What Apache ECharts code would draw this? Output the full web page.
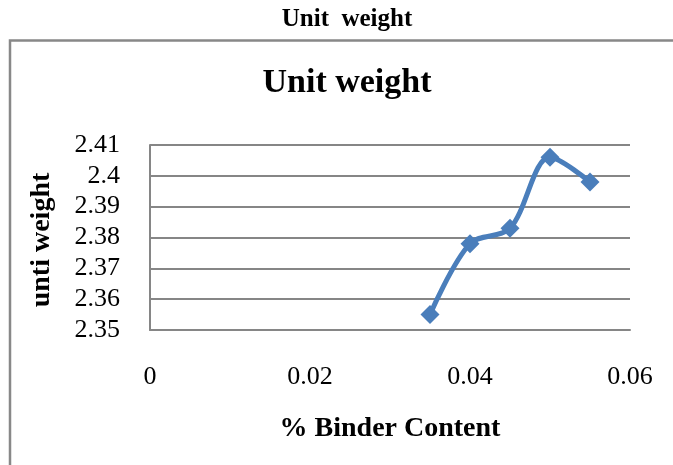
<!DOCTYPE html>
<html>
<head>
<meta charset="utf-8">
<style>
  html, body { margin: 0; padding: 0; background: #fff; }
  #chart { width: 673px; height: 465px; }
</style>
<script src="https://cdn.jsdelivr.net/npm/echarts@6/dist/echarts.min.js"></script>
</head>
<body>
<div id="chart"></div>
<script>
// Binder content (fraction) against measured unit weight
const binderContent = [0.035, 0.04, 0.045, 0.05, 0.055];
const unitWeight = [2.355, 2.378, 2.383, 2.406, 2.398];

// Axis settings
const xTicks = { min: 0, max: 0.06, interval: 0.02 };
const yTicks = { min: 2.35, max: 2.41, interval: 0.01 };

const captionText = 'Unit  weight';
const titleText = 'Unit weight';
const xName = '% Binder Content';
const yName = 'unti weight';

const serif = '"Liberation Serif", "Times New Roman", serif';
const gridColor = '#868686';
const lineColor = '#4a7ebb';

const chart = echarts.init(document.getElementById('chart'), null, { renderer: 'canvas' });

const fmt = v => String(parseFloat(v.toFixed(2)));

chart.setOption({
  animation: false,
  backgroundColor: '#ffffff',
  graphic: [
    // frame round the chart
    {
      type: 'polyline',
      shape: { points: [[10, 465], [10, 40.5], [673, 40.5]] },
      style: { stroke: '#888888', lineWidth: 2.5, fill: null },
      silent: true
    },
    // caption above the frame
    {
      type: 'text',
      x: 347, y: 20,
      style: {
        text: captionText,
        font: 'bold 25px ' + serif,
        fill: '#000',
        textAlign: 'center',
        textVerticalAlign: 'middle'
      }
    },
    // chart title
    {
      type: 'text',
      x: 347, y: 83,
      style: {
        text: titleText,
        font: 'bold 34px ' + serif,
        fill: '#000',
        textAlign: 'center',
        textVerticalAlign: 'middle'
      }
    },
    // vertical axis name
    {
      type: 'text',
      x: 42, y: 240,
      rotation: Math.PI / 2,
      style: {
        text: yName,
        font: 'bold 28px ' + serif,
        fill: '#000',
        textAlign: 'center',
        textVerticalAlign: 'middle'
      }
    }
  ],
  grid: { left: 150, right: 43, top: 145, bottom: 135, containLabel: false },
  xAxis: {
    type: 'value',
    min: xTicks.min,
    max: xTicks.max,
    interval: xTicks.interval,
    name: xName,
    nameLocation: 'middle',
    nameGap: 85,
    nameTextStyle: { fontFamily: serif, fontWeight: 'bold', fontSize: 28, color: '#000' },
    axisLine: { show: true, lineStyle: { color: gridColor, width: 2 } },
    axisTick: { show: false },
    splitLine: { show: false },
    axisLabel: { fontFamily: serif, fontSize: 26, color: '#000', margin: 34, formatter: fmt }
  },
  yAxis: {
    type: 'value',
    min: yTicks.min,
    max: yTicks.max,
    interval: yTicks.interval,
    axisLine: { show: true, lineStyle: { color: gridColor, width: 2 } },
    axisTick: { show: false },
    splitLine: { show: true, lineStyle: { color: gridColor, width: 2 } },
    axisLabel: { fontFamily: serif, fontSize: 26, color: '#000', margin: 30, formatter: fmt }
  },
  series: [
    {
      type: 'line',
      data: binderContent.map((x, i) => [x, unitWeight[i]]),
      smooth: 0.33,
      symbol: 'diamond',
      symbolSize: 19,
      lineStyle: { color: lineColor, width: 5 },
      itemStyle: { color: lineColor }
    }
  ]
});
</script>
</body>
</html>
